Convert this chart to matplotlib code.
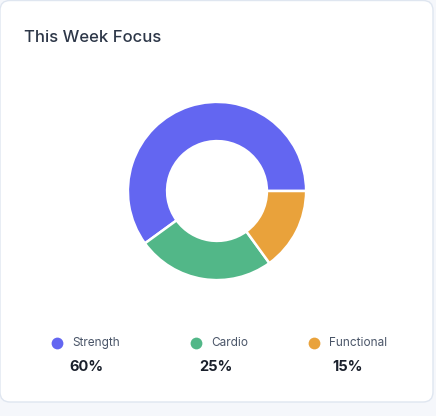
import matplotlib.pyplot as plt
from matplotlib.patches import FancyBboxPatch

# DATA
categories = ["Strength", "Cardio", "Functional"]
shares = [60, 25, 15]
colors = ["#6366F1", "#52B788", "#E9A23B"]

plt.rcParams['font.family'] = ['Inter', 'DejaVu Sans']

W, H = 436, 416
fig = plt.figure(figsize=(W / 100, H / 100), dpi=100)
fig.patch.set_facecolor("#F5F7FB")

# background axes in pixel coords
bg = fig.add_axes([0, 0, 1, 1])
bg.set_xlim(0, W)
bg.set_ylim(H, 0)
bg.axis("off")

card = FancyBboxPatch((0, 0.5), 433, 401.5, boxstyle="round,pad=0,rounding_size=10",
                      facecolor="white", edgecolor="#DFE6F0", linewidth=1)
bg.add_patch(card)

bg.text(24, 37, "This Week Focus", fontsize=12, color="#2D3748",
        va="center", ha="left", fontweight="medium")

# donut
cx, cy, r = 217, 191, 90
ax = fig.add_axes([(cx - r) / W, (H - cy - r) / H, 2 * r / W, 2 * r / H])
ax.pie(shares, colors=colors, startangle=0, counterclock=True, radius=1,
       wedgeprops=dict(width=0.44, edgecolor="white", linewidth=1.8))
ax.set_xlim(-1.01, 1.01)
ax.set_ylim(-1.01, 1.01)
ax.set_aspect("auto")
ax.axis("off")

# legend
marker_x = [57, 196, 314]
pct_x = [86, 216, 348]
for i, name in enumerate(categories):
    bg.scatter(marker_x[i], 343, s=72, color=colors[i], zorder=3, linewidths=0)
    bg.text(marker_x[i] + 15, 343, name, fontsize=8.5, color="#4A5568",
            va="center", ha="left")
    bg.text(pct_x[i], 367, f"{shares[i]}%", fontsize=10.5, color="#1A202C",
            va="center", ha="center", fontweight="bold")

fig.savefig("out.png", dpi=100, facecolor=fig.get_facecolor())
